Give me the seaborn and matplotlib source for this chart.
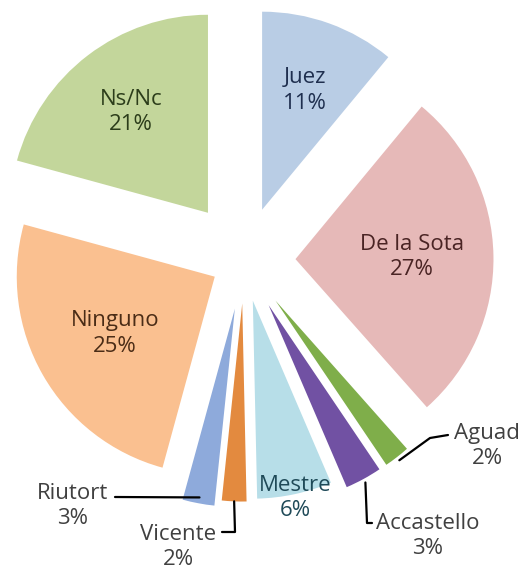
import matplotlib
matplotlib.use('Agg')
import numpy as np
import matplotlib.pyplot as plt
import seaborn as sns

# ─── Data ─────────────────────────────────────────────────────────────────────
CANDIDATES = ['Juez', 'De la Sota', 'Aguad', 'Accastello', 'Mestre',
              'Vicente', 'Riutort', 'Ninguno', 'Ns/Nc']
SHARE = [11.0, 27.45, 2.1, 3.0, 6.1, 2.0, 2.6, 25.0, 20.75]   # % (labels show rounded)

# ─── Style ────────────────────────────────────────────────────────────────────
COLORS = ['#b9cde5', '#e6b9b8', '#7fae4a', '#7151a3', '#b7dee8',
          '#e38a3f', '#8eaadb', '#fac090', '#c3d69b']
TEXT_COLORS = {'Juez': '#1f2f4f', 'De la Sota': '#4a2424', 'Mestre': '#1f4a58',
               'Ninguno': '#4a2c16', 'Ns/Nc': '#2c3d1a'}
EXPLODE = [0.27, 0.26, 0.26, 0.26, 0.21, 0.22, 0.25, 0.17, 0.30]   # fraction of radius
INSIDE_DIST = {'Juez': 0.64, 'De la Sota': 0.59, 'Mestre': 1.02,
               'Ninguno': 0.58, 'Ns/Nc': 0.64}
# outside labels: where the leader starts (fraction of radius), leader points,
# text centre (pixel coords)
OUTSIDE = {
    'Aguad':      dict(tip=1.02, path=[(430, 438), (448, 435)], text=(487, 446)),
    'Accastello': dict(tip=1.02, path=[(367, 523), (372, 523)], text=(428, 536)),
    'Vicente':    dict(tip=1.0, path=[(235, 532), (222, 532)], text=(178, 547)),
    'Riutort':    dict(tip=0.97, path=[(115, 497)], text=(73, 506)),
}

W, H = 523, 573
CENTER = (244, 260)
RADIUS = 198
FS = 16

sns.set_theme(style='white')
plt.rcParams['font.family'] = ['Open Sans', 'DejaVu Sans']

fig = plt.figure(figsize=(W / 100, H / 100), dpi=100)
ax = fig.add_axes([0, 0, 1, 1])

# y axis inverted -> counterclock in data = clockwise on screen, 270 = top
wedges, _ = ax.pie(SHARE, colors=COLORS, startangle=270, counterclock=True,
                   explode=[e * RADIUS for e in EXPLODE], center=CENTER,
                   radius=RADIUS, wedgeprops=dict(linewidth=0))
ax.set_xlim(0, W)
ax.set_ylim(H, 0)
ax.set_aspect('auto')
ax.axis('off')

for w, name, val in zip(wedges, CANDIDATES, SHARE):
    mid = np.deg2rad((w.theta1 + w.theta2) / 2)
    cx, cy = w.center
    label = f'{name}\n{val:.0f}%'
    if name in INSIDE_DIST:
        d = INSIDE_DIST[name] * RADIUS
        ax.text(cx + d * np.cos(mid), cy + d * np.sin(mid), label,
                ha='center', va='center', fontsize=FS, linespacing=1.3,
                color=TEXT_COLORS[name])
    else:
        spec = OUTSIDE[name]
        r = spec['tip'] * RADIUS
        pts = [(cx + r * np.cos(mid), cy + r * np.sin(mid))] + spec['path']
        ax.plot([p[0] for p in pts], [p[1] for p in pts], color='black', lw=1.6)
        tx, ty = spec['text']
        ax.text(tx, ty, label, ha='center', va='center', fontsize=FS,
                linespacing=1.3, color='#404040')

fig.savefig('out.png', dpi=100)
